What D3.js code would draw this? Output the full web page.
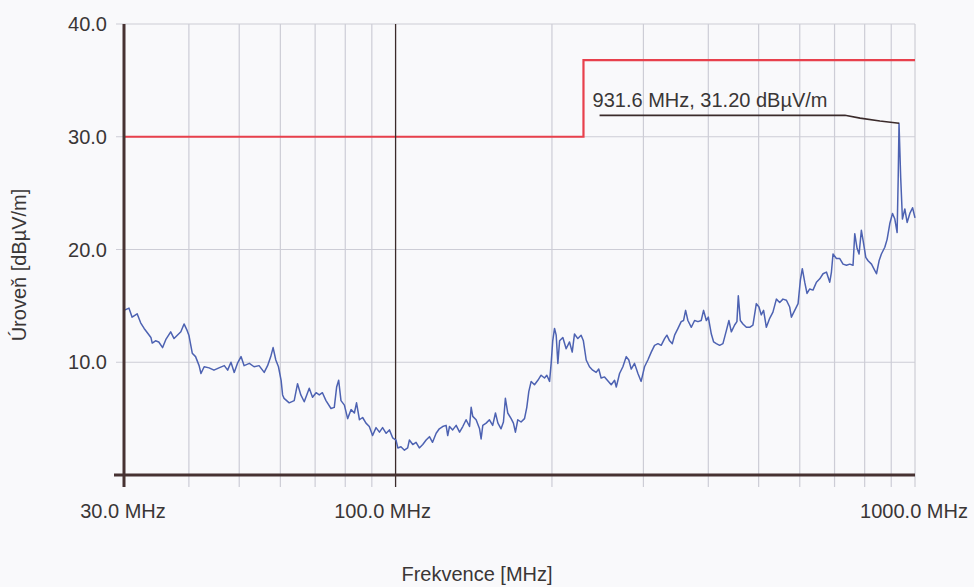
<!DOCTYPE html>
<html lang="cs">

<head>
    <meta http-equiv="Content-Type" content="text/html;charset=utf-8" />
    <title>Frekvence / Úroveň</title>
    <script src="https://cdnjs.cloudflare.com/ajax/libs/d3/7.8.5/d3.min.js"></script>
    <style type="text/css">
        body {
            margin: 0;
            background: #f9f9fb;
        }

        text {
            font-family: "Liberation Sans", Arial, sans-serif;
            fill: #3a3636;
        }
    </style>
</head>

<body>
    <div id="chart"></div>
</body>

<script type="text/javascript">

    var freqMHz = [
        30.0, 30.67, 31.1, 31.8, 32.3, 32.8, 33.3, 33.8, 34.0, 34.5, 35.0, 35.6, 36.1, 36.9, 37.45, 38.0, 38.6, 39.15, 39.7, 40.0,
        40.6, 41.2, 41.85, 42.2, 42.8, 43.75, 44.7, 45.7, 46.8, 47.5, 48.2, 48.9, 49.6, 50.4, 51.1, 52.3, 53.4, 54.6, 55.85, 56.7,
        57.5, 58.1, 58.8, 59.5, 60.2, 60.6, 61.0, 62.4, 63.8, 64.75, 65.7, 66.7, 68.2, 69.2, 70.3, 71.3, 72.3, 73.45, 75.1, 76.2,
        77.0, 77.7, 78.5, 79.7, 80.85, 82.1, 83.3, 84.1, 85.2, 86.4, 87.7, 89.0, 90.3, 91.7, 93.1, 94.4, 95.9, 97.3, 98.7, 100.2,
        101.0, 102.4, 104.0, 105.5, 106.3, 107.9, 109.5, 111.1, 112.8, 114.5, 116.2, 117.8, 119.7, 121.4, 123.2, 125.1, 126.0, 127.0, 128.8, 130.8,
        132.8, 134.7, 136.7, 138.8, 139.8, 140.8, 142.9, 145.1, 146.1, 147.2, 149.4, 151.6, 153.8, 155.7, 157.4, 159.6, 161.3, 162.7, 164.4, 166.9,
        168.6, 170.1, 171.9, 174.4, 177.1, 178.9, 180.5, 182.4, 185.1, 187.9, 190.6, 193.5, 195.5, 197.9, 199.3, 200.7, 202.3, 203.8, 205.3, 206.9,
        209.9, 213.0, 216.2, 218.8, 221.0, 224.3, 227.6, 229.9, 232.8, 236.2, 239.6, 243.3, 246.1, 248.7, 252.5, 260.1, 264.0, 266.0, 269.9, 273.9,
        278.0, 281.2, 284.2, 288.4, 292.8, 297.0, 301.5, 306.0, 310.6, 315.2, 320.0, 324.6, 329.5, 332.9, 336.9, 341.0, 344.5, 349.7, 354.7, 358.4,
        361.7, 365.4, 371.0, 376.4, 382.1, 387.6, 391.7, 396.5, 400.0, 405.4, 409.6, 414.5, 420.6, 426.8, 433.3, 438.3, 443.0, 449.5, 454.1, 456.9,
        461.0, 466.4, 473.5, 480.5, 487.5, 494.9, 500.7, 505.8, 511.1, 517.4, 525.1, 532.7, 540.9, 548.9, 556.9, 565.5, 573.8, 578.1, 586.7, 595.5,
        601.7, 606.8, 613.3, 619.6, 627.1, 636.2, 646.0, 655.6, 665.2, 675.3, 685.3, 690.4, 695.3, 705.9, 716.4, 726.9, 738.0, 748.9, 759.8, 765.6,
        773.5, 780.4, 788.4, 794.4, 804.0, 812.2, 824.6, 833.1, 843.1, 852.8, 861.6, 874.7, 883.7, 894.4, 905.2, 914.4, 923.8, 928.2, 931.6, 938.5,
        945.8, 955.9, 965.7, 977.4, 989.3, 1000.0
    ];
    var levelDb = [
        14.6, 14.8, 14.0, 14.3, 13.5, 13.0, 12.6, 12.2, 11.7, 11.9, 11.8, 11.3, 12.0, 12.7, 12.1, 12.4, 12.7, 13.4, 12.8, 12.4,
        10.8, 10.5, 9.7, 9.0, 9.6, 9.5, 9.3, 9.5, 9.7, 9.3, 10.0, 9.1, 9.9, 10.5, 9.7, 9.9, 9.6, 9.7, 9.1, 9.7,
        10.5, 11.3, 10.2, 9.6, 8.4, 7.1, 6.8, 6.4, 6.6, 8.1, 7.1, 6.5, 7.7, 6.9, 7.3, 7.1, 7.3, 6.6, 5.9, 6.0,
        7.8, 8.4, 6.6, 6.2, 5.0, 5.8, 5.5, 6.4, 4.9, 5.1, 4.6, 4.3, 3.5, 4.2, 3.8, 4.2, 3.7, 4.0, 3.3, 3.1,
        2.4, 2.5, 2.2, 2.4, 3.1, 2.7, 2.9, 2.4, 2.7, 3.1, 3.4, 2.9, 3.7, 4.1, 4.3, 4.4, 3.5, 4.3, 4.0, 4.4,
        3.8, 4.3, 4.9, 4.3, 6.0, 5.2, 4.9, 4.1, 3.2, 4.4, 4.6, 4.9, 4.4, 5.5, 4.6, 4.1, 4.7, 6.8, 5.5, 5.0,
        4.6, 3.8, 4.9, 4.7, 5.0, 6.0, 7.4, 8.3, 8.0, 8.4, 8.85, 8.6, 8.85, 8.3, 9.9, 11.9, 13.0, 12.4, 9.9, 11.9,
        12.2, 11.2, 11.8, 10.9, 12.5, 12.1, 12.4, 11.9, 10.2, 9.6, 9.3, 9.1, 9.4, 8.6, 8.7, 8.0, 8.4, 7.8, 9.0, 9.6,
        10.5, 10.2, 9.4, 9.9, 9.0, 8.3, 9.6, 10.2, 10.9, 11.5, 11.65, 11.5, 12.1, 12.4, 11.9, 11.65, 12.4, 13.0, 13.6, 13.7,
        14.6, 13.7, 13.1, 13.7, 13.6, 13.7, 14.6, 13.7, 14.0, 12.5, 11.8, 11.65, 11.5, 11.65, 12.8, 13.7, 12.7, 13.3, 13.6, 15.9,
        13.7, 13.4, 13.1, 13.1, 13.3, 15.2, 14.9, 14.2, 14.6, 13.1, 13.9, 14.45, 15.6, 15.3, 15.6, 15.5, 14.9, 14.0, 14.6, 15.2,
        17.3, 18.3, 17.1, 16.1, 16.5, 16.4, 17.1, 17.4, 17.85, 18.0, 17.1, 18.0, 19.6, 19.2, 19.2, 18.7, 18.6, 18.7, 18.6, 21.4,
        20.1, 19.6, 21.7, 20.8, 19.3, 19.0, 18.7, 18.3, 17.85, 19.0, 19.6, 20.2, 20.9, 22.3, 23.2, 22.7, 21.5, 26.3, 31.2, 26.4,
        22.7, 23.6, 22.4, 23.2, 23.7, 22.8
    ];

    // Limit line (step at 230 MHz)
    var limitFreq = [30, 230, 230, 1000];
    var limitLevel = [30, 30, 36.8, 36.8];

    // Axis ticks and grid
    var yTicks = [10, 20, 30, 40];
    var xTickLabels = [30, 100, 1000];
    var xGrid = [40, 50, 60, 70, 80, 90, 200, 300, 400, 500, 600, 700, 800, 900, 1000];

    // Marker at 100 MHz and peak annotation
    var markerFreq = 100;
    var peakFreq = 931.6;
    var peakLevel = 31.2;
    var leaderFreq = [247, 733, 784, 856, 931.6];
    var leaderLevel = [31.9, 31.9, 31.65, 31.4, 31.2];

    var w = 974;
    var h = 587;

    var svg = d3.select("#chart")
        .append("svg")
        .attr("width", w)
        .attr("height", h);

    var x = d3.scaleLog().domain([30, 1000]).range([124, 915]);
    var y = d3.scaleLinear().domain([0, 40]).range([475, 24]);

    var line = d3.line()
        .x(function (d) { return x(d[0]); })
        .y(function (d) { return y(d[1]); });

    // vertical grid lines, running a bit below the axis like ticks
    svg.append("g").selectAll("line")
        .data(xGrid)
        .enter().append("line")
        .attr("x1", function (d) { return x(d); })
        .attr("x2", function (d) { return x(d); })
        .attr("y1", y(40))
        .attr("y2", y(0) + 12)
        .attr("stroke", "#cdcdd6")
        .attr("stroke-width", 1.2);

    // horizontal grid lines, starting a bit left of the axis
    svg.append("g").selectAll("line")
        .data(yTicks)
        .enter().append("line")
        .attr("x1", x(30) - 8)
        .attr("x2", x(1000))
        .attr("y1", function (d) { return y(d); })
        .attr("y2", function (d) { return y(d); })
        .attr("stroke", "#cdcdd6")
        .attr("stroke-width", 1.2);

    // y tick labels
    svg.append("g").selectAll("text")
        .data(yTicks)
        .enter().append("text")
        .attr("x", x(30) - 17)
        .attr("y", function (d) { return y(d); })
        .attr("dy", "0.35em")
        .attr("text-anchor", "end")
        .style("font-size", "20px")
        .text(function (d) { return d.toFixed(1); });

    // x tick labels
    svg.append("g").selectAll("text")
        .data(xTickLabels)
        .enter().append("text")
        .attr("x", function (d) { return x(d); })
        .attr("dx", function (d) { return d === 100 ? -13 : -1; })
        .attr("y", 518)
        .attr("text-anchor", "middle")
        .style("font-size", "20px")
        .text(function (d) { return d.toFixed(1) + " MHz"; });

    // axis titles
    svg.append("text")
        .attr("x", 477)
        .attr("y", 581)
        .attr("text-anchor", "middle")
        .style("font-size", "20px")
        .text("Frekvence [MHz]");

    svg.append("text")
        .attr("transform", "translate(26,265) rotate(-90)")
        .attr("text-anchor", "middle")
        .style("font-size", "20px")
        .text("Úroveň [dBµV/m]");

    // limit line
    svg.append("path")
        .attr("d", line(d3.zip(limitFreq, limitLevel)))
        .attr("fill", "none")
        .attr("stroke", "#e8404c")
        .attr("stroke-width", 2.2);

    // marker line at 100 MHz
    svg.append("line")
        .attr("x1", x(markerFreq))
        .attr("x2", x(markerFreq))
        .attr("y1", y(40))
        .attr("y2", y(0) + 12)
        .attr("stroke", "#3b2b2b")
        .attr("stroke-width", 1.3);

    // measured trace
    svg.append("path")
        .attr("d", line(d3.zip(freqMHz, levelDb)))
        .attr("fill", "none")
        .attr("stroke", "#4d62b2")
        .attr("stroke-width", 1.5)
        .attr("stroke-linejoin", "round");

    // peak annotation
    svg.append("path")
        .attr("d", line(d3.zip(leaderFreq, leaderLevel)))
        .attr("fill", "none")
        .attr("stroke", "#3b2b2b")
        .attr("stroke-width", 1.6);

    svg.append("text")
        .attr("x", x(leaderFreq[0]) - 7)
        .attr("y", y(leaderLevel[0]) - 8)
        .style("font-size", "20px")
        .text(peakFreq.toFixed(1) + " MHz, " + peakLevel.toFixed(2) + " dBµV/m");

    // axes drawn last, thick dark lines
    svg.append("line")
        .attr("x1", x(30) - 10)
        .attr("x2", x(1000))
        .attr("y1", y(0))
        .attr("y2", y(0))
        .attr("stroke", "#473232")
        .attr("stroke-width", 3);

    svg.append("line")
        .attr("x1", x(30))
        .attr("x2", x(30))
        .attr("y1", y(40))
        .attr("y2", y(0) + 12)
        .attr("stroke", "#473232")
        .attr("stroke-width", 3);

</script>

</html>
